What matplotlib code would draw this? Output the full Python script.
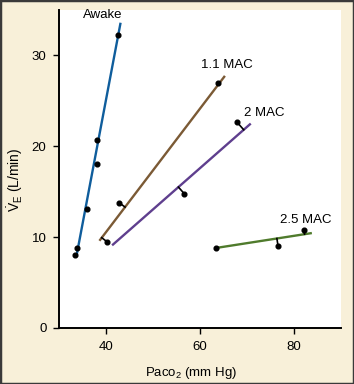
import matplotlib
matplotlib.use("Agg")
import matplotlib.pyplot as plt
import numpy as np

plt.rcParams['font.family'] = ['Liberation Sans', 'DejaVu Sans']
plt.rcParams['mathtext.fontset'] = 'custom'
plt.rcParams['mathtext.rm'] = 'Liberation Sans'
plt.rcParams['mathtext.it'] = 'Liberation Sans'

# series: fitted line end points and measured points (PaCO2, VE)
names = ["Awake", "1.1 MAC", "2 MAC", "2.5 MAC"]
line_x = [[33.8, 43.1], [38.6, 65.3], [41.3, 70.8], [63.3, 83.8]]
line_y = [[8.15, 33.6], [9.6, 27.75], [9.1, 22.5], [8.8, 10.45]]
pts_x = [[33.4, 33.8, 36.0, 38.0, 38.1, 42.6],
         [40.2, 42.8, 63.9],
         [56.7, 67.8],
         [63.3, 76.6, 82.1]]
pts_y = [[8.0, 8.8, 13.1, 20.7, 18.0, 32.3],
         [9.5, 13.8, 26.95],
         [14.75, 22.7],
         [8.8, 9.05, 10.8]]
# which points get a residual bar to the line
resid = [[0, 0, 0, 0, 0, 0], [1, 1, 0], [1, 1], [0, 1, 1]]
label_xy = [(39.3, 34.5), (65.7, 28.9), (73.7, 23.7), (82.5, 11.9)]
colors = ["#0f5d9c", "#7b5a35", "#5f3f8e", "#4f7b2c"]

fig = plt.figure(figsize=(3.54, 3.84), dpi=100, facecolor="#f8f0d9")
ax = fig.add_axes([59 / 354, 1 - 328 / 384, 282 / 354, 318 / 384])
ax.set_xlim(30, 90)
ax.set_ylim(0, 35)

for i in range(len(names)):
    ax.plot(line_x[i], line_y[i], color=colors[i], lw=1.7, solid_capstyle="butt", zorder=2)
    ax.plot(pts_x[i], pts_y[i], "o", color="black", ms=3.4, zorder=4)
    # residual bars, perpendicular to the line in display space
    p0 = ax.transData.transform((line_x[i][0], line_y[i][0]))
    p1 = ax.transData.transform((line_x[i][1], line_y[i][1]))
    d = (p1 - p0) / np.linalg.norm(p1 - p0)
    for x, y, r in zip(pts_x[i], pts_y[i], resid[i]):
        if not r:
            continue
        q = ax.transData.transform((x, y))
        foot = p0 + np.dot(q - p0, d) * d
        fx, fy = ax.transData.inverted().transform(foot)
        ax.plot([x, fx], [y, fy], color="black", lw=1.2, zorder=3)
    lx, ly = label_xy[i]
    ax.text(lx, ly, names[i], ha="center", va="center", fontsize=9.5, clip_on=False)

ax.set_xticks([40, 60, 80])
ax.set_yticks([0, 10, 20, 30])
ax.tick_params(labelsize=9.5, length=4, width=1, direction="out", pad=5)
for s in ["top", "right"]:
    ax.spines[s].set_visible(False)
for s in ["left", "bottom"]:
    ax.spines[s].set_linewidth(1.4)

ax.set_xlabel(r"Pa$\mathregular{co_2}$ (mm Hg)", fontsize=9.5)
ax.xaxis.set_label_coords(0.47, -0.115)
ax.set_ylabel(r"$\dot{V}_E$ (L/min)", fontsize=10)
ax.yaxis.set_label_coords(-0.12, 0.465)

# dark frame round the figure
fig.patches.append(plt.Rectangle((0, 0), 1, 1, transform=fig.transFigure,
                                 fill=False, edgecolor="#3a3a3a", lw=2.5))

fig.savefig("out.png", dpi=100, facecolor=fig.get_facecolor())
